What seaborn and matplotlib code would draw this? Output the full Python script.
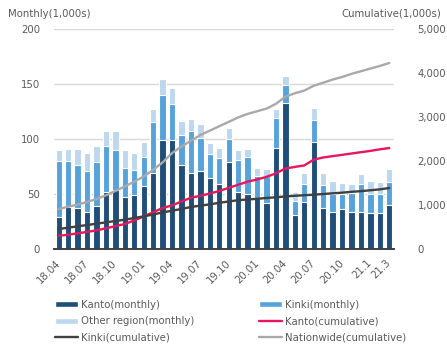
import numpy as np
import pandas as pd
import matplotlib
matplotlib.use("Agg")
import matplotlib.pyplot as plt
from matplotlib.patches import Patch
from matplotlib.lines import Line2D
import seaborn as sns

# Months April 2018 - March 2021
months = ["18.04", "18.05", "18.06", "18.07", "18.08", "18.09", "18.10", "18.11", "18.12",
          "19.01", "19.02", "19.03", "19.04", "19.05", "19.06", "19.07", "19.08", "19.09",
          "19.10", "19.11", "19.12", "20.01", "20.02", "20.03", "20.04", "20.05", "20.06",
          "20.07", "20.08", "20.09", "20.10", "20.11", "20.12", "21.1", "21.2", "21.3"]
tick_labels = ["18.04", "18.07", "18.10", "19.01", "19.04", "19.07", "19.10",
               "20.01", "20.04", "20.07", "20.10", "21.1", "21.3"]

# Monthly values (1,000s)
kanto_monthly = [29, 38, 37, 34, 39, 52, 54, 47, 49, 57, 69, 99, 99, 76, 69, 71, 65, 59,
                 79, 52, 50, 46, 42, 92, 133, 31, 43, 97, 37, 34, 36, 34, 34, 33, 33, 40]
kinki_monthly = [51, 42, 39, 37, 40, 42, 36, 27, 23, 27, 46, 41, 33, 28, 38, 30, 21, 24,
                 21, 29, 34, 20, 24, 27, 16, 13, 16, 20, 21, 16, 14, 17, 25, 17, 17, 21]
other_monthly = [10, 11, 15, 16, 15, 13, 17, 16, 15, 13, 12, 15, 14, 12, 11, 13, 10, 9,
                 10, 9, 7, 8, 7, 8, 8, 8, 10, 11, 11, 12, 10, 8, 9, 12, 11, 12]

# Cumulative values (1,000s)
kanto_cum = [300, 325, 355, 390, 423, 470, 520, 568, 650, 741, 835, 932, 990, 1080, 1165,
             1210, 1260, 1320, 1390, 1460, 1530, 1580, 1640, 1720, 1830, 1865, 1900, 2030,
             2080, 2110, 2140, 2170, 2200, 2230, 2265, 2295]
kinki_cum = [454, 485, 515, 545, 575, 605, 636, 666, 705, 741, 785, 832, 870, 910, 955,
             985, 1015, 1050, 1080, 1110, 1125, 1140, 1160, 1175, 1195, 1210, 1222, 1234,
             1250, 1265, 1280, 1300, 1315, 1335, 1355, 1386]
nation_cum = [910, 960, 1010, 1070, 1136, 1220, 1320, 1423, 1530, 1650, 1800, 1968, 2180,
              2330, 2460, 2590, 2690, 2790, 2890, 2990, 3070, 3130, 3190, 3300, 3460, 3540,
              3600, 3711, 3780, 3850, 3910, 3980, 4040, 4100, 4160, 4227]

C_KANTO = "#1f4e79"
C_KINKI = "#56a3dc"
C_OTHER = "#bdd7ee"
C_KANTO_CUM = "#e8175d"
C_KINKI_CUM = "#404040"
C_NATION_CUM = "#a9a9a9"
TXT = "#595959"
FS = 7.3

sns.set_theme(style="white")
plt.rcParams["font.family"] = ["DejaVu Sans"]

df = pd.DataFrame({
    "month": months,
    "pos": np.arange(len(months)),
    "kanto": kanto_monthly,
    "kinki": kinki_monthly,
    "other": other_monthly,
    "kanto_cum": kanto_cum,
    "kinki_cum": kinki_cum,
    "nation_cum": nation_cum,
})
df["top_kinki"] = df["kanto"] + df["kinki"]
df["top_other"] = df["top_kinki"] + df["other"]

fig = plt.figure(figsize=(4.47, 3.5), dpi=100)
ax = fig.add_axes([54 / 447, 1 - 249 / 350, 340 / 447, 220 / 350])

# Stacked bars drawn back to front
bar_kw = dict(width=0.66, edgecolor="white", linewidth=0.8, saturation=1, ax=ax, order=months)
sns.barplot(data=df, x="month", y="top_other", color=C_OTHER, **bar_kw)
sns.barplot(data=df, x="month", y="top_kinki", color=C_KINKI, **bar_kw)
sns.barplot(data=df, x="month", y="kanto", color=C_KANTO, **bar_kw)

ax.set_xlim(-0.5, len(months) - 0.5)
ax.set_ylim(0, 200)
ax.set_yticks([0, 50, 100, 150, 200])
for v in [100, 150, 200]:
    ax.axhline(v, color="#d9d9d9", lw=1.0, zorder=0)
ax.axhline(50, color="#bfbfbf", lw=0.9, ls=(0, (1, 2)), zorder=0)
ax.set_xlabel("")
ax.set_ylabel("")
for s in ["top", "left", "right"]:
    ax.spines[s].set_visible(False)
ax.spines["bottom"].set_color("#404040")
ax.spines["bottom"].set_linewidth(1.4)

tick_pos = [months.index(t) for t in tick_labels]
ax.set_xticks(tick_pos)
ax.set_xticklabels(tick_labels, rotation=45, ha="right", va="center",
                   rotation_mode="anchor", fontsize=FS, color=TXT)
ax.tick_params(axis="x", length=0, pad=9)
ax.tick_params(axis="y", length=0, pad=10, labelsize=FS, labelcolor=TXT)

# Cumulative lines on the secondary axis
ax2 = ax.twinx()
sns.lineplot(data=df, x="pos", y="nation_cum", color=C_NATION_CUM, lw=1.7, ax=ax2)
sns.lineplot(data=df, x="pos", y="kanto_cum", color=C_KANTO_CUM, lw=1.7, ax=ax2)
sns.lineplot(data=df, x="pos", y="kinki_cum", color=C_KINKI_CUM, lw=1.7, ax=ax2)
ax2.set_ylim(0, 5000)
ax2.set_xlim(-0.5, len(months) - 0.5)
ax2.set_yticks([0, 1000, 2000, 3000, 4000, 5000])
ax2.set_yticklabels(["0", "1,000", "2,000", "3,000", "4,000", "5,000"])
ax2.tick_params(axis="y", length=0, pad=17, labelsize=FS, labelcolor=TXT)
ax2.set_ylabel("")
ax2.grid(False)
for s in ["top", "left", "right", "bottom"]:
    ax2.spines[s].set_visible(False)

fig.text(8 / 447, 1 - 14 / 350, "Monthly(1,000s)", fontsize=FS, color=TXT, va="center")
fig.text(441 / 447, 1 - 14 / 350, "Cumulative(1,000s)", fontsize=FS, color=TXT,
         va="center", ha="right")

handles = [
    Patch(facecolor=C_KANTO, label="Kanto(monthly)"),
    Patch(facecolor=C_OTHER, label="Other region(monthly)"),
    Line2D([], [], color=C_KINKI_CUM, lw=1.7, label="Kinki(cumulative)"),
    Patch(facecolor=C_KINKI, label="Kinki(monthly)"),
    Line2D([], [], color=C_KANTO_CUM, lw=1.7, label="Kanto(cumulative)"),
    Line2D([], [], color=C_NATION_CUM, lw=1.7, label="Nationwide(cumulative)"),
]
fig.legend(handles=handles, loc="upper left", bbox_to_anchor=(55 / 447, 1 - 300 / 350),
           ncol=2, frameon=False, fontsize=FS, labelcolor=TXT, handlelength=2.3,
           handleheight=0.55, handletextpad=0.3, columnspacing=6.3, labelspacing=0.62,
           borderpad=0, borderaxespad=0)

fig.savefig("out.png", dpi=100)
